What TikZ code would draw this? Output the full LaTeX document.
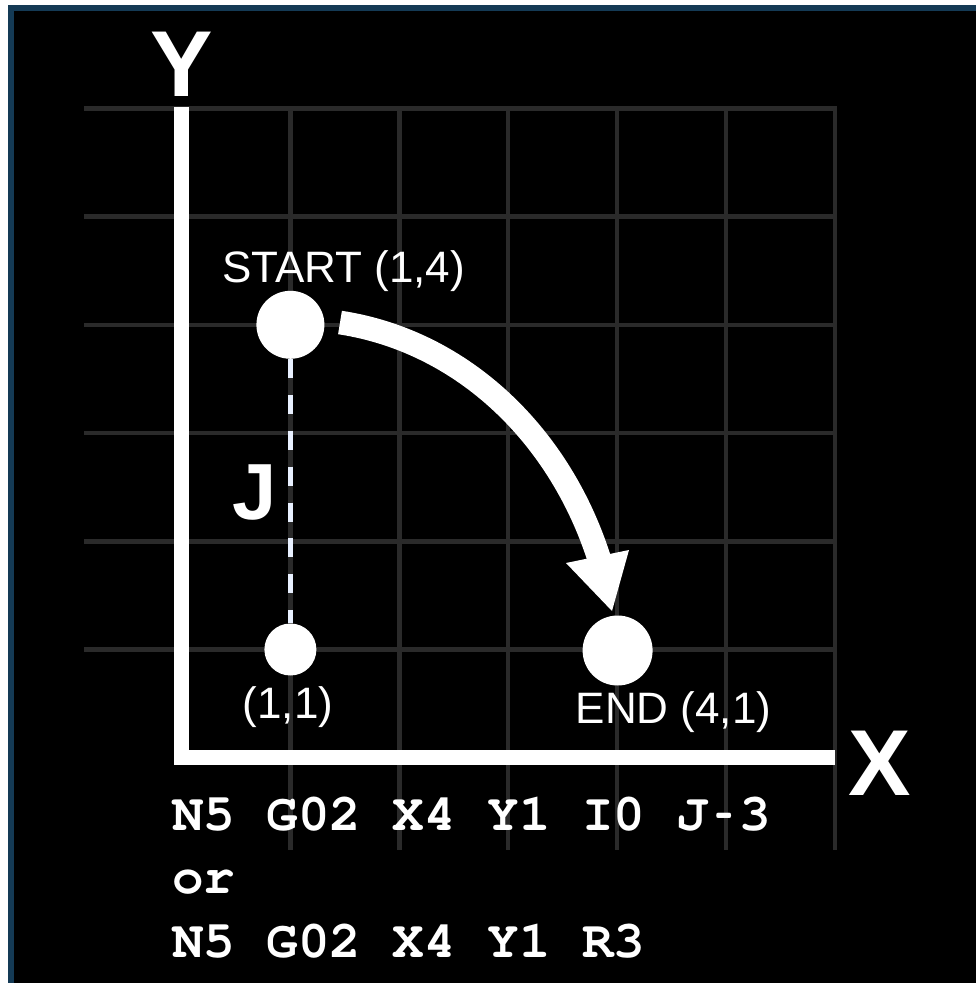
\documentclass[tikz,border=0pt]{standalone}
\usepackage{fontspec}
\setmainfont{Liberation Sans}
\newfontfamily\codefont{texgyrecursor-bold.otf}
\definecolor{gridgray}{RGB}{42,42,42}
\definecolor{framecol}{RGB}{20,58,85}
\definecolor{dashwhite}{RGB}{232,240,255}
\newcommand{\shorthy}{\makebox[0.6em][c]{\scalebox{0.55}[1]{-}}}
\begin{document}
\begin{tikzpicture}[x=0.02cm,y=-0.02cm,
  gridln/.style={draw=gridgray,line width=2.6pt},
  axisln/.style={draw=white,line width=8.8pt,line join=miter},
  dot/.style={circle,fill=white,inner sep=0pt,draw=none},
  lbl/.style={text=white,inner sep=0pt,anchor=base,font=\fontsize{25.04}{30}\selectfont},
  biglbl/.style={text=white,inner sep=0pt,anchor=base,font=\bfseries\fontsize{53.3}{60}\selectfont},
  jlbl/.style={text=white,inner sep=0pt,anchor=base,font=\bfseries\fontsize{45.3}{52}\selectfont},
  codeln/.style={text=white,inner sep=0pt,anchor=base west,font=\codefont\fontsize{29.9}{34}\selectfont},
  dashln/.style={draw=dashwhite,line width=2.85pt,dash pattern=on 10.77pt off 9.64pt},
  shaft/.style={draw=white,line width=13.5pt},
  headfill/.style={fill=white}
]
\useasboundingbox (0,0) rectangle (976,983);
% background and frame
\fill[white] (0,0) rectangle (976,983);
\fill[framecol] (8,5) rectangle (976,983);
\fill[black] (14,11) rectangle (976,983);
% grid
\foreach \yy in {108.3,216.5,324.8,433,541.3,649.5}
  \draw[gridln] (84,\yy) -- (837,\yy);
\foreach \xx in {290.4,399.3,508.2,617.1,726,834.9}
  \draw[gridln] (\xx,106) -- (\xx,850);
% axes
\draw[axisln] (181.5,107) -- (181.5,757.5) -- (835,757.5);
\node[biglbl] (ylab) at (182,97) {Y};
\node[biglbl] (xlab) at (880,795) {X};
% points
\node[dot,minimum size=1.36cm] (start) at (290.4,324.8) {};
\node[dot,minimum size=1.04cm] (p11) at (290.4,649.5) {};
\node[dot,minimum size=1.4cm] (end) at (617.6,650.5) {};
% labels
\node[lbl] (startlab) at (343.5,282) {START (1,4)};
\node[lbl] (endlab) at (673.5,723) {END (4,1)};
\node[lbl] (p11lab) at (288,718) {(1,1)};
\node[jlbl] (jlab) at (254.5,519.5) {J};
% dashed J line
\draw[dashln] (start) -- (p11);
% arc arrow
\coordinate (arrS) at (340,322.5);
\coordinate (arrE) at (600.5,563);
\coordinate (headL) at (566,563);
\coordinate (headR) at (629,550);
\coordinate (headT) at (612,611);
\draw[shaft] (arrS) .. controls (463.5,341.4) and (561.6,436.4) .. (arrE);
\fill[headfill] (headL) -- (headR) -- (headT) -- cycle;
% code lines
\node[codeln] (code1) at (172,830) {N5 G02 X4 Y1 I0 J\shorthy3};
\node[codeln] (code2) at (172,893) {or};
\node[codeln] (code3) at (172,957) {N5 G02 X4 Y1 R3};
\end{tikzpicture}
\end{document}
